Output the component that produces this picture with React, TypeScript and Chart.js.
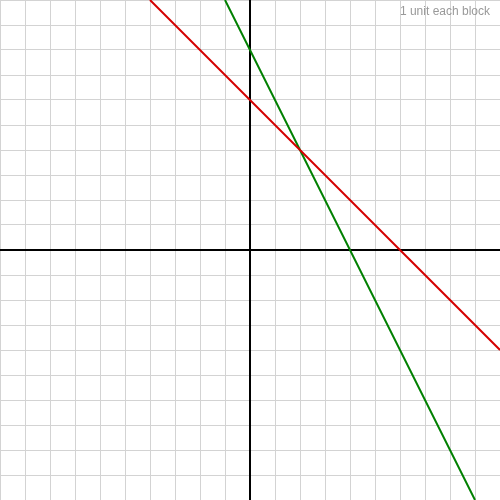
import React, { useEffect, useRef } from "react";
import { Chart, registerables, Plugin } from "chart.js";

Chart.register(...registerables);

// lines: red y = 6 - x, green y = 8 - 2x
const redX = [-4, 10];
const redY = [10, -4];
const greenX = [-1, 9];
const greenY = [10, -10];
const axisMin = -10;
const axisMax = 10;
const caption = "1 unit each block";

// black x/y axes through the origin, drawn after both grids so nothing crosses them
const originAxesPlugin: Plugin<"scatter"> = {
  id: "originAxes",
  beforeDatasetsDraw(chart) {
    const { ctx, chartArea, scales } = chart;
    const x0 = scales.x.getPixelForValue(0);
    const y0 = scales.y.getPixelForValue(0);
    ctx.save();
    ctx.strokeStyle = "#000000";
    ctx.lineWidth = 2;
    ctx.beginPath();
    ctx.moveTo(x0, chartArea.top);
    ctx.lineTo(x0, chartArea.bottom);
    ctx.moveTo(chartArea.left, y0);
    ctx.lineTo(chartArea.right, y0);
    ctx.stroke();
    ctx.restore();
  },
};

const captionPlugin: Plugin<"scatter"> = {
  id: "caption",
  afterDraw(chart) {
    const ctx = chart.ctx;
    ctx.save();
    ctx.font = "12px 'Liberation Sans', Arial, sans-serif";
    ctx.fillStyle = "#999999";
    ctx.textAlign = "right";
    ctx.textBaseline = "alphabetic";
    ctx.fillText(caption, 490, 15);
    ctx.restore();
  },
};

const App: React.FC = () => {
  const canvasRef = useRef<HTMLCanvasElement | null>(null);

  useEffect(() => {
    document.body.style.margin = "0";
    if (!canvasRef.current) return;
    const grid = { color: "#d3d3d3", lineWidth: 1, drawTicks: false };
    const chart = new Chart(canvasRef.current, {
      type: "scatter",
      data: {
        datasets: [
          {
            label: "red",
            data: redX.map((x, i) => ({ x, y: redY[i] })),
            showLine: true,
            borderColor: "#d40000",
            borderWidth: 2,
            pointRadius: 0,
          },
          {
            label: "green",
            data: greenX.map((x, i) => ({ x, y: greenY[i] })),
            showLine: true,
            borderColor: "#008000",
            borderWidth: 2,
            pointRadius: 0,
          },
        ],
      },
      options: {
        responsive: false,
        animation: false,
        layout: { padding: 0 },
        plugins: { legend: { display: false }, tooltip: { enabled: false } },
        scales: {
          x: {
            type: "linear",
            min: axisMin,
            max: axisMax,
            ticks: { display: false, stepSize: 1 },
            border: { display: false },
            grid,
          },
          y: {
            type: "linear",
            min: axisMin,
            max: axisMax,
            ticks: { display: false, stepSize: 1 },
            border: { display: false },
            grid,
          },
        },
      },
      plugins: [originAxesPlugin, captionPlugin],
    });
    return () => chart.destroy();
  }, []);

  return (
    <div style={{ width: 500, height: 500, background: "#ffffff" }}>
      <canvas ref={canvasRef} width={500} height={500} />
    </div>
  );
};

export default App;
